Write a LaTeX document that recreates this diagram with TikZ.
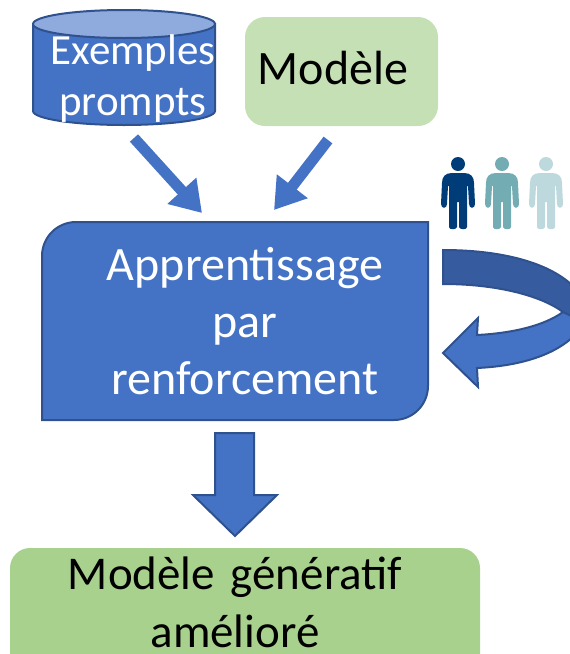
\documentclass[tikz,border=0pt]{standalone}
\usepackage{fontspec}
\setmainfont{Carlito}
\usetikzlibrary{arrows.meta}
\definecolor{blu}{HTML}{4472C4}
\definecolor{blud}{HTML}{2F528F}
\definecolor{bluf}{HTML}{365C9F}
\definecolor{blul}{HTML}{8FAADC}
\definecolor{grnl}{HTML}{C5E0B4}
\definecolor{grn}{HTML}{A9D18E}
\tikzset{
  x=1pt,y=-1pt,
  shapeline/.style={draw=blud,line width=2pt,fill=blu},
  label/.style={inner sep=0pt,align=center,text width=#1},
  flow/.style={draw=blu,line width=11pt,-{Triangle[length=30pt,width=37pt]}},
  person/.pic={
    \fill[pic actions] (0,-66) circle (7);
    \fill[pic actions] (-6,-57) .. controls (-13,-57) and (-16,-53) .. (-16,-47)
      -- (-17,-26) .. controls (-17,-21) and (-11,-21) .. (-11,-26)
      -- (-10,-44) -- (-9,-44) -- (-9,-3) .. controls (-9,0) and (-2,0) .. (-1,-3)
      -- (-1,-28) -- (1,-28) -- (1,-3) .. controls (2,0) and (9,0) .. (9,-3)
      -- (9,-44) -- (10,-44) -- (11,-26) .. controls (11,-21) and (17,-21) .. (17,-26)
      -- (16,-47) .. controls (16,-53) and (13,-57) .. (6,-57) -- cycle;
  }
}
\begin{document}
\begin{tikzpicture}
\useasboundingbox (0,0) rectangle (570,654);
\begin{scope}
\clip (0,0) rectangle (570,654);
% cylinder
\draw[shapeline] (33,24) -- (33,111) arc[start angle=180,end angle=360,x radius=91,y radius=-14] -- (215,24) -- cycle;
\draw[shapeline,fill=blul] (124,24) ellipse[x radius=91,y radius=14];
\node[label=190pt,text=white,font=\fontsize{43}{51}\selectfont] (cyl) at (133,79) {Exemples\\prompts};
% model
\fill[grnl,rounded corners=20pt] (245,17) rectangle (438,126);
\node[inner sep=0pt,font=\fontsize{48}{50}\selectfont] (model) at (333,68) {Modèle};
% main box
\draw[shapeline] (76,222) -- (428,222) -- (428,386) arc[start angle=0,end angle=90,radius=34] -- (42,420) -- (42,256) arc[start angle=180,end angle=270,radius=34] -- cycle;
\node[label=360pt,text=white,font=\fontsize{48}{57}\selectfont] (main) at (245,321) {Apprentissage\\par\\renforcement};
% result
\fill[grn,rounded corners=20pt] (10,548) rectangle (480,680);
\node[label=460pt,font=\fontsize{47}{58}\selectfont] (res) at (235,602) {Modèle génératif\\amélioré};
% curved arrow
\draw[draw=blud,line width=2pt,fill=bluf] (443,250) .. controls (500,250) and (550,262) .. (575,288)
  -- (575,320) -- (563,312) .. controls (540,295) and (495,284) .. (443,284) -- cycle;
\draw[draw=blud,line width=2pt,fill=blu] (563,312) .. controls (545,325) and (515,333) .. (477,335)
  -- (478,318) -- (443,353) -- (478,387) -- (477,368)
  .. controls (520,366) and (555,355) .. (575,335) -- (575,318) -- cycle;
% people
\pic[fill={rgb,255:red,0;green,60;blue,120}] at (458,230) {person};
\pic[fill={rgb,255:red,115;green,172;blue,178}] at (502,230) {person};
\pic[fill={rgb,255:red,190;green,217;blue,222}] at (546,230) {person};
% arrows
\coordinate (a1) at (134,138); \coordinate (b1) at (202,213);
\coordinate (a2) at (328,140); \coordinate (b2) at (274,210);
\draw[flow] (a1) -- (b1);
\draw[flow] (a2) -- (b2);
\draw[shapeline] (215,433) -- (254,433) -- (254,495) -- (277,495) -- (235,536) -- (193,495) -- (215,495) -- cycle;
\end{scope}
\end{tikzpicture}
\end{document}
